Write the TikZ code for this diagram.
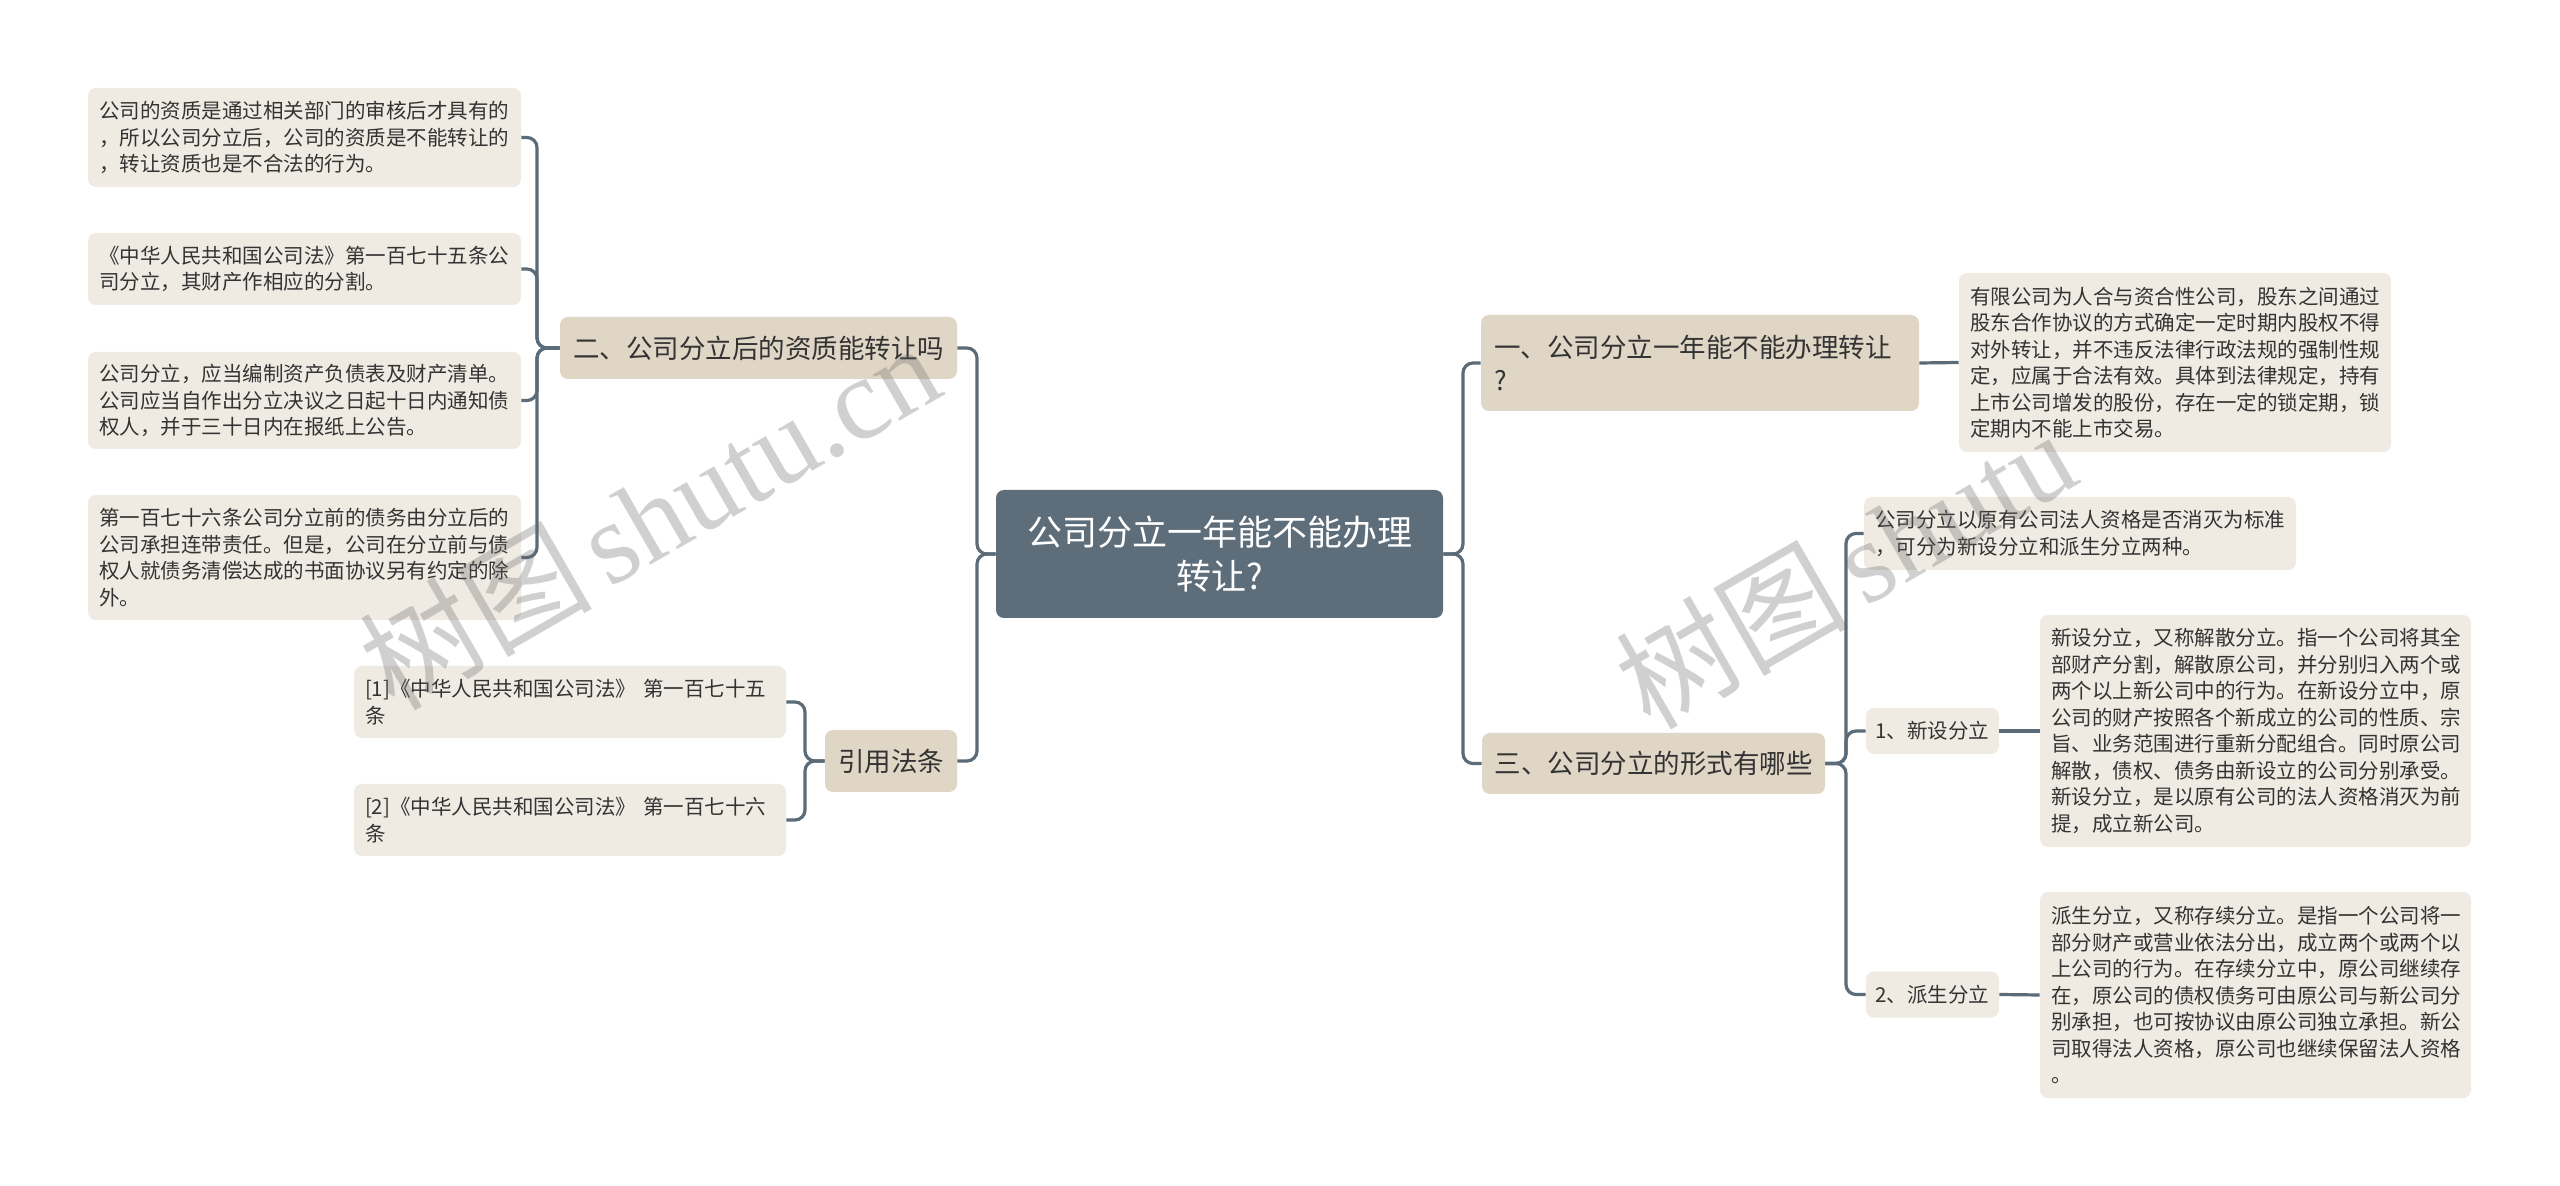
\documentclass[tikz,border=0pt]{standalone}
\usepackage{fontspec}
\setmainfont{Noto Sans CJK SC}
\newfontfamily\wmcjk{Noto Sans CJK SC}
\newfontfamily\wmlat{Liberation Serif}
\definecolor{connc}{HTML}{5B6B77}
\definecolor{rootc}{HTML}{5D6D7A}
\definecolor{branchc}{HTML}{E0D6C6}
\definecolor{leafc}{HTML}{EFEBE3}
\definecolor{txtc}{HTML}{333333}
\tikzset{
  base/.style={rounded corners=4pt, inner ysep=0pt, anchor=center, text=txtc},
  rootbox/.style={base, fill=rootc, text=white, align=center,
    font=\fontsize{17.5pt}{22pt}\selectfont, minimum width=223.5pt, minimum height=64pt},
  branchbox/.style={base, fill=branchc, font=\fontsize{13.25pt}{16.5pt}\selectfont},
  leafbox/.style={base, fill=leafc, align=left, inner xsep=5.5pt,
    font=\fontsize{10.25pt}{13.25pt}\selectfont},
  smallbox/.style={base, fill=leafc, font=\fontsize{10.25pt}{13.25pt}\selectfont,
    minimum width=66.5pt, minimum height=23pt},
  conn/.style={draw=connc, line width=1.6pt, rounded corners=5pt},
  wm/.style={text=black!60, text opacity=0.3, inner sep=0pt}
}
\begin{document}
\begin{tikzpicture}[x=0.5pt,y=-0.5pt]
\useasboundingbox[fill=white] (0,0) rectangle (2560,1186);

% trunk coordinates
\coordinate (lxL) at (537,0);
\coordinate (lxR) at (805,0);
\coordinate (lx0) at (977,0);
\coordinate (rx0) at (1463,0);
\coordinate (rx3) at (1846,0);

% root
\node[rootbox] (root) at (1219.5,554) {公司分立一年能不能办理\\转让?};

% left branches
\node[branchbox, minimum width=198.5pt, minimum height=31pt] (b2) at (758.5,348) {二、公司分立后的资质能转让吗};
\node[branchbox, minimum width=66pt, minimum height=31pt] (b3) at (891,761) {引用法条};

% left leaves
\node[leafbox, text width=205.5pt, minimum height=49.5pt] (L1) at (304.5,137.5)
  {公司的资质是通过相关部门的审核后才具有的\\，所以公司分立后，公司的资质是不能转让的\\，转让资质也是不合法的行为。};
\node[leafbox, text width=205.5pt, minimum height=36pt] (L2) at (304.5,269)
  {《中华人民共和国公司法》第一百七十五条公\\司分立，其财产作相应的分割。};
\node[leafbox, text width=205.5pt, minimum height=48.5pt] (L3) at (304.5,400.5)
  {公司分立，应当编制资产负债表及财产清单。\\公司应当自作出分立决议之日起十日内通知债\\权人，并于三十日内在报纸上公告。};
\node[leafbox, text width=205.5pt, minimum height=62.5pt] (L4) at (304.5,557.5)
  {第一百七十六条公司分立前的债务由分立后的\\公司承担连带责任。但是，公司在分立前与债\\权人就债务清偿达成的书面协议另有约定的除\\外。};

\node[leafbox, text width=205pt, minimum height=36pt] (F1) at (570,702)
  {[1]《中华人民共和国公司法》 第一百七十五\\条};
\node[leafbox, text width=205pt, minimum height=36pt] (F2) at (570,820)
  {[2]《中华人民共和国公司法》 第一百七十六\\条};

% right branches
\node[branchbox, align=left, inner xsep=6.5pt, text width=206pt, minimum height=48pt] (b1) at (1700,363)
  {一、公司分立一年能不能办理转让\\?};
\node[branchbox, minimum width=171.5pt, minimum height=30.5pt] (b4) at (1653.5,763.5) {三、公司分立的形式有哪些};

\node[leafbox, text width=205pt, minimum height=89.5pt] (R1) at (2175,362.5)
  {有限公司为人合与资合性公司，股东之间通过\\股东合作协议的方式确定一定时期内股权不得\\对外转让，并不违反法律行政法规的强制性规\\定，应属于合法有效。具体到法律规定，持有\\上市公司增发的股份，存在一定的锁定期，锁\\定期内不能上市交易。};

\node[leafbox, text width=205pt, minimum height=36.5pt] (A) at (2080,533.5)
  {公司分立以原有公司法人资格是否消灭为标准\\，可分为新设分立和派生分立两种。};
\node[smallbox] (n1) at (1932.5,731) {1、新设分立};
\node[smallbox] (n2) at (1932.5,994.5) {2、派生分立};

\node[leafbox, text width=204.5pt, minimum height=116pt] (B) at (2255.5,731)
  {新设分立，又称解散分立。指一个公司将其全\\部财产分割，解散原公司，并分别归入两个或\\两个以上新公司中的行为。在新设分立中，原\\公司的财产按照各个新成立的公司的性质、宗\\旨、业务范围进行重新分配组合。同时原公司\\解散，债权、债务由新设立的公司分别承受。\\新设分立，是以原有公司的法人资格消灭为前\\提，成立新公司。};
\node[leafbox, text width=204.5pt, minimum height=103pt] (C) at (2255.5,995)
  {派生分立，又称存续分立。是指一个公司将一\\部分财产或营业依法分出，成立两个或两个以\\上公司的行为。在存续分立中，原公司继续存\\在，原公司的债权债务可由原公司与新公司分\\别承担，也可按协议由原公司独立承担。新公\\司取得法人资格，原公司也继续保留法人资格\\。};

% connectors: root left
\foreach \c in {b2,b3}
  \draw[conn] (root.west) -- (root.west -| lx0) -- (\c.east -| lx0) -- (\c.east);
% b2 children
\foreach \c in {L1,L2,L3,L4}
  \draw[conn] (b2.west) -- (b2.west -| lxL) -- (\c.east -| lxL) -- (\c.east);
% b3 children
\foreach \c in {F1,F2}
  \draw[conn] (b3.west) -- (b3.west -| lxR) -- (\c.east -| lxR) -- (\c.east);
% root right
\foreach \c in {b1,b4}
  \draw[conn] (root.east) -- (root.east -| rx0) -- (\c.west -| rx0) -- (\c.west);
\draw[conn] (b1.east) -- (R1.west);
% b4 children
\foreach \c in {A,n1,n2}
  \draw[conn] (b4.east) -- (b4.east -| rx3) -- (\c.west -| rx3) -- (\c.west);
\draw[conn] (n1.east) -- (B.west);
\draw[conn] (n2.east) -- (C.west);

% watermarks
\node[wm, rotate=30] (wm1) at (649,515) {\fontsize{58pt}{58pt}\selectfont\wmcjk 树图\hspace{8pt}\wmlat shutu.cn};
\node[wm, rotate=30] (wm2) at (1845,568) {\fontsize{58pt}{58pt}\selectfont\wmcjk 树图\hspace{8pt}\wmlat shutu};
\end{tikzpicture}
\end{document}
